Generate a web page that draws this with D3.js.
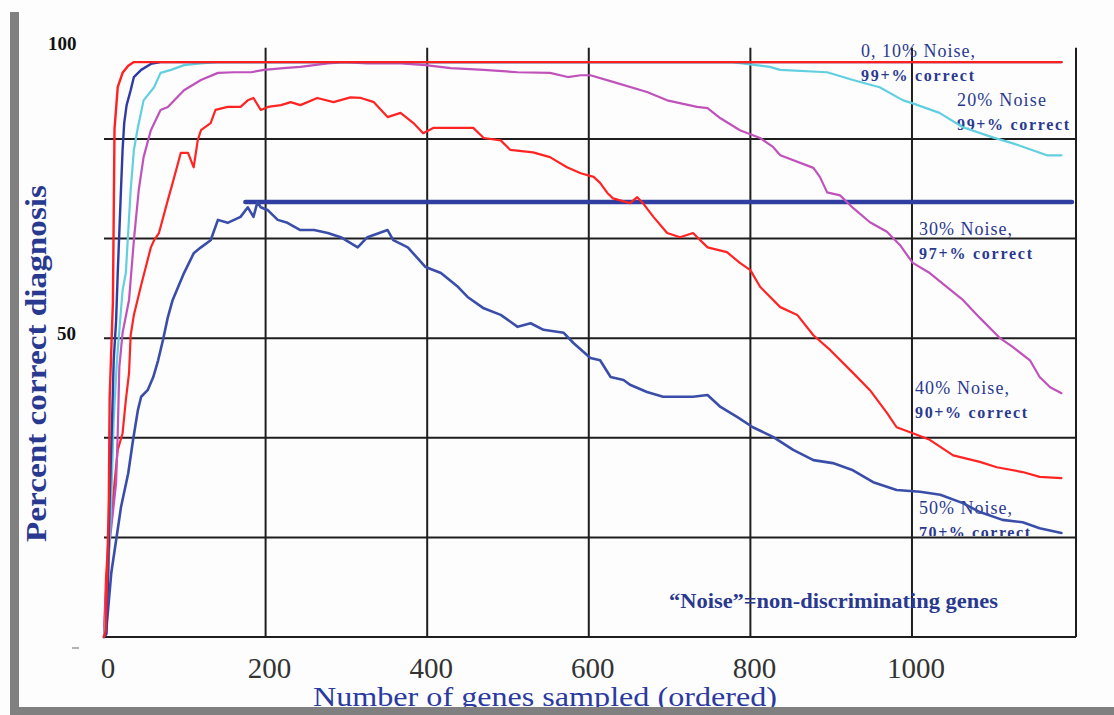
<!DOCTYPE html>
<html>
<head>
<meta charset="utf-8">
<script src="https://cdn.jsdelivr.net/npm/d3@7"></script>
<style>
  body { margin: 0; background: #fff; }
  svg { display: block; }
  .grid line { stroke: #1e1e1e; stroke-width: 2; }
  .curve { fill: none; stroke-linejoin: round; stroke-linecap: round; }
  .note { fill: #2a3990; font-family: "Liberation Serif", "DejaVu Serif", serif; }
</style>
</head>
<body>
<svg width="1114" height="715"></svg>
<script>
// values: [genes sampled, percent correct]
const noise0 = [[0,0],[2,1],[4,11],[6,23],[7,40],[11,56],[12,70],[13,85],[17,92],[23,94.4],[30,95.6],[37,96.2],[1185,96.2]];

const noise10 = [[0,0],[3,0.5],[5,9.5],[7,22.9],[10,36.3],[12,46.3],[15,53],[17,60.9],[21,74.8],[23,81.5],[25,86],
  [28,89],[33,91.5],[37,93.7],[46,94.9],[58,95.9],[70,96.2],[1185,96.2]];

const noise20 = [[0,0],[4,6.2],[6,12.9],[9,22.9],[12,36.3],[16,46.3],[20,53],[23,58],[27,60.9],[33,74.8],[37,81.5],
  [42,85.3],[49,89.8],[62,92],[70,94.4],[83,94.9],[99,95.7],[120,96],[141,96.2],[777,96.2],[790,96.0],[824,95.4],
  [837,94.9],[895,94.5],[927,93.2],[960,92],[989,89.8],[1001,89.3],[1034,87.7],[1063,85.3],[1100,83.6],[1125,82.6],
  [1167,80.6],[1185,80.6]];

const noise30 = [[0,0],[2,6.2],[6,14.6],[15,25.8],[17,34.1],[19,45.2],[23,50.9],[31,56.4],[37,66.4],[43,74.8],[49,80.3],
  [58,84.8],[70,88.2],[79,88.7],[99,91.5],[120,93.2],[141,94.4],[161,94.5],[182,94.5],[198,94.9],[222,95.2],[243,95.4],
  [277,96.0],[297,96.2],[326,96.0],[367,96.0],[398,95.7],[429,95.2],[470,94.9],[512,94.5],[552,94.4],[574,93.7],
  [590,94.0],[602,94.0],[630,92.9],[672,91.2],[697,89.8],[734,88.7],[747,88.5],[763,86.8],[787,84.8],[812,83.5],
  [828,82.0],[837,80.6],[878,78.5],[886,77.0],[895,74.4],[911,73.9],[927,71.8],[948,69.4],[969,67.8],[985,65.6],
  [1001,62.6],[1022,60.9],[1043,58.6],[1063,56.4],[1084,53.4],[1109,50.0],[1125,48.5],[1146,46.3],[1158,43.5],
  [1171,41.8],[1185,40.8]];

const noise40 = [[0,0],[2.5,10.0],[6,17.4],[11,22.9],[17,31.3],[23,34.1],[27,39.6],[31,44.2],[33,50.5],[37,53.9],
  [46,58.9],[58,65.2],[62,66.4],[68,67.6],[79,73.1],[86,76.5],[95,81.0],[104,81.0],[111,78.6],[116,83.1],[120,84.8],
  [132,86.0],[138,88.2],[153,88.7],[169,88.7],[178,89.8],[185,90.2],[194,88.2],[203,88.7],[219,89.0],[231,89.5],
  [243,89.0],[264,90.2],[284,89.5],[305,90.3],[318,90.2],[334,89.5],[351,87.0],[367,87.7],[383,86.0],[395,84.3],
  [408,85.2],[429,85.2],[457,85.2],[470,83.5],[491,83.1],[503,81.5],[531,81.1],[552,80.3],[573,78.6],[590,77.6],
  [606,77.0],[614,76.0],[623,74.3],[630,73.4],[651,72.6],[660,73.6],[667,72.6],[680,70.3],[697,67.6],[713,66.9],
  [729,67.6],[747,65.2],[771,64.4],[787,62.6],[800,61.4],[812,58.6],[837,55.2],[858,53.9],[878,50.5],[899,48.0],
  [927,44.2],[948,41.3],[969,37.5],[981,35.1],[1001,34.1],[1022,33.0],[1051,30.4],[1084,29.3],[1105,28.4],
  [1137,27.6],[1158,26.8],[1185,26.6]];

const noise50 = [[0,0],[2.5,0.7],[9,10.7],[15,16.2],[21,21.7],[30,27.4],[36,33.0],[42,38.0],[46,40.2],[54,41.3],
  [61,43.5],[67,46.3],[73,49.7],[79,53.5],[85,56.4],[99,60.9],[111,64.2],[120,65.2],[132,66.4],[141,69.8],[153,69.3],
  [169,70.3],[178,71.9],[185,70.3],[190,72.8],[194,71.9],[203,71.4],[215,69.8],[227,69.3],[243,68.1],[260,68.1],
  [277,67.6],[293,66.9],[314,65.2],[326,66.9],[351,68.1],[358,66.4],[376,65.2],[398,61.9],[417,60.9],[438,58.6],
  [450,56.9],[470,55.0],[491,53.9],[512,51.9],[528,52.5],[544,51.4],[569,50.9],[581,49.2],[602,46.7],[614,46.3],
  [627,43.5],[643,43.0],[651,42.2],[672,41.0],[692,40.2],[713,40.2],[729,40.2],[747,40.5],[763,38.5],[784,36.8],
  [803,35.1],[828,33.5],[853,31.3],[878,29.6],[902,29.1],[927,27.9],[952,25.9],[981,24.6],[1010,24.3],[1035,23.8],
  [1063,22.4],[1084,20.9],[1112,19.6],[1137,19.2],[1158,18.2],[1185,17.4]];

// best level of the 50% curve, drawn as a bar
const bestLine = [[175,72.8],[1198,72.8]];

const xTicks = [0, 200, 400, 600, 800, 1000];
const xGrid = [200, 400, 600, 800, 1000, 1203];
const yGrid = [100/6, 200/6, 300/6, 400/6, 500/6];
const yLabels = ['100', '50'];
const gridTop = 98.6;

const seriesLabels = [
  ['0, 10% Noise,', '99+% correct'],
  ['20% Noise', '99+% correct'],
  ['30% Noise,', '97+% correct'],
  ['40% Noise,', '90+% correct'],
  ['50% Noise,', '70+% correct']
];
const noteText = '\u201CNoise\u201D=non-discriminating genes';
const xTitle = 'Number of genes sampled (ordered)';
const yTitle = 'Percent correct diagnosis';

const svg = d3.select('svg');

const x = d3.scaleLinear().domain([0, 1203]).range([104, 1076]);
const y = d3.scaleLinear().domain([0, 100]).range([637, 39.4]);

// background
svg.append('rect').attr('width', 1114).attr('height', 715).attr('fill', '#fdfdfd');

// grid
const grid = svg.append('g').attr('class', 'grid');
grid.selectAll('.h').data([0].concat(yGrid)).join('line')
  .attr('x1', x(0)).attr('x2', x(1203))
  .attr('y1', d => y(d)).attr('y2', d => y(d));
grid.selectAll('.v').data(xGrid).join('line')
  .attr('x1', d => x(d)).attr('x2', d => x(d))
  .attr('y1', y(0)).attr('y2', y(gridTop));

// tick labels
svg.append('g').selectAll('text').data(xTicks).join('text')
  .attr('x', d => x(d) + 4).attr('y', 678)
  .attr('text-anchor', 'middle')
  .attr('font-family', '"Liberation Serif", serif')
  .attr('font-size', 29).attr('fill', '#333')
  .text(d => d);

const yl = svg.append('g').attr('font-family', '"Liberation Serif", serif')
  .attr('font-weight', 'bold').attr('font-size', 19).attr('fill', '#111');
yl.append('text').attr('x', 48).attr('y', y(100) + 11).text(yLabels[0]);
yl.append('text').attr('x', 57).attr('y', y(50) + 2).text(yLabels[1]);
svg.append('line').attr('x1', 72).attr('x2', 79).attr('y1', y(0) + 11).attr('y2', y(0) + 11)
  .attr('stroke', '#999').attr('stroke-width', 1.5);

// series labels
const labelPos = [[861, 57, 114, 113], [957, 106, 89, 112], [919, 235, 93, 113], [915, 394, 94, 112], [919, 514, 93, 111]];
svg.append('defs').append('clipPath').attr('id', 'cut')
  .append('rect').attr('x', 0).attr('y', 0).attr('width', 1114).attr('height', 536);
seriesLabels.forEach((lines, i) => {
  const [lx, ly, w1, w2] = labelPos[i];
  const g = svg.append('g').attr('class', 'note');
  if (i === 4) g.attr('clip-path', 'url(#cut)');
  g.append('text').attr('x', lx).attr('y', ly)
    .attr('font-size', 18).attr('textLength', w1).attr('lengthAdjust', 'spacing').text(lines[0]);
  g.append('text').attr('x', lx).attr('y', ly + 24)
    .attr('font-size', 16).attr('font-weight', 'bold')
    .attr('textLength', w2).attr('lengthAdjust', 'spacing').text(lines[1]);
});

svg.append('text').attr('class', 'note').attr('x', 669).attr('y', 608)
  .attr('font-size', 20).attr('font-weight', 'bold')
  .attr('textLength', 329).attr('lengthAdjust', 'spacingAndGlyphs').text(noteText);

// curves
const line = d3.line().x(d => x(d[0])).y(d => y(d[1]));

svg.append('path').datum(bestLine).attr('class', 'curve')
  .attr('stroke', '#2f3ea0').attr('stroke-width', 4.5).attr('stroke-linecap', 'butt').attr('d', line);

const curves = [
  [noise50, '#3a4ea9', 2.6],
  [noise40, '#ff2424', 2.2],
  [noise30, '#bf52bb', 2.2],
  [noise20, '#62cfe0', 2.2],
  [noise10, '#2d3ba3', 2.4],
  [noise0, '#ff2020', 2.4]
];
curves.forEach(([data, color, w]) => {
  svg.append('path').datum(data).attr('class', 'curve')
    .attr('stroke', color).attr('stroke-width', w).attr('d', line);
});

// axis titles
svg.append('text').attr('x', 313).attr('y', 706)
  .attr('font-family', '"Liberation Serif", serif').attr('font-size', 28)
  .attr('fill', '#2a3aa0').attr('textLength', 464).attr('lengthAdjust', 'spacingAndGlyphs')
  .text(xTitle);

svg.append('text').attr('transform', 'translate(46,542) rotate(-90)')
  .attr('font-family', '"Liberation Serif", serif').attr('font-size', 30).attr('font-weight', 'bold')
  .attr('fill', '#2a3990').attr('textLength', 357).attr('lengthAdjust', 'spacingAndGlyphs')
  .text(yTitle);

// grey frame
svg.append('rect').attr('x', 10).attr('y', 12).attr('width', 9).attr('height', 703).attr('fill', '#808080');
svg.append('rect').attr('x', 10).attr('y', 707).attr('width', 1104).attr('height', 8).attr('fill', '#808080');
</script>
</body>
</html>
